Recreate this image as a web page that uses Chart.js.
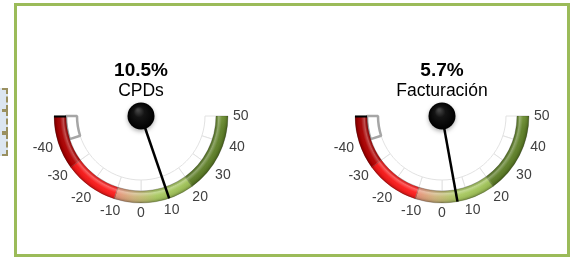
<!DOCTYPE html>
<html>
<head>
<meta charset="utf-8">
<script src="https://cdn.jsdelivr.net/npm/chart.js@4.4.1/dist/chart.umd.min.js"></script>
<style>
  html, body { margin: 0; padding: 0; background: #fff; width: 578px; height: 258px; overflow: hidden; }
  body { position: relative; font-family: "Liberation Sans", Arial, sans-serif; }
  .frame { position: absolute; left: 14px; top: 3px; width: 556px; height: 254px; box-sizing: border-box; border: 3px solid #9bbb59; }
  .sel { position: absolute; left: -20px; width: 28px; height: 23px; box-sizing: border-box; background: #dce6f1; border: 2px dashed #9a9060; }
  canvas { position: absolute; top: 0; }
</style>
</head>
<body>
<div class="sel" style="top:88px"></div>
<div class="sel" style="top:110px"></div>
<div class="sel" style="top:133px"></div>
<div class="frame"></div>
<canvas id="g1" width="290" height="258" style="left:0"></canvas>
<canvas id="g2" width="290" height="258" style="left:301px"></canvas>
<script>
// --- datos de los indicadores ---
const gaugeNames  = ['CPDs', 'Facturación'];
const gaugeValues = [10.5, 5.7];                 // %
const bandStops   = [-50, -30, -10, 20, 50];     // zonas de color
const cellStops   = [-50, -40, -30, -20, -10, 0, 10, 20, 30, 40, 50];
const tickLabels  = [-40, -30, -20, -10, 0, 10, 20, 30, 40, 50];

const dialMin = bandStops[0];
const dialMax = bandStops[bandStops.length - 1];
const FONT = '"Liberation Sans", Arial, sans-serif';

// chart.js dibuja en sentido horario desde las 3h, o sea de 50 hacia -50
const widths = (stops) => stops.slice(1).map((s, i) => s - stops[i]).reverse();

// valor -> ángulo canvas (0 = derecha, PI = izquierda)
const angleOf = (v) => (dialMax - v) / (dialMax - dialMin) * Math.PI;

const COLOR_STOPS = [
    [50, '#6f9134'], [45, '#5f8028'], [20.6, '#5d7d27'],
    [19.6, '#9dc055'], [6, '#a9c961'], [-3, '#cfb27c'], [-9.6, '#e8937a'],
    [-10.4, '#ff1f1f'], [-29.6, '#f21515'],
    [-30.4, '#b40000'], [-50, '#a00000'],
];

function bandGradient(ctx) {
    const area = ctx.chart.chartArea;
    if (!area) return '#c00';
    const cx = (area.left + area.right) / 2, cy = area.top;
    const g = ctx.chart.ctx.createConicGradient(0, cx, cy);
    COLOR_STOPS.forEach(([v, c]) => g.addColorStop((dialMax - v) / (2 * (dialMax - dialMin)), c));
    g.addColorStop(1, '#a00000');
    return g;
}

const gaugePlugin = {
    id: 'gauge',
    afterDatasetDraw(chart, args) {
        if (args.index !== 0) return;
        const arc = args.meta.data[0];
        const { x, y, innerRadius: r0, outerRadius: r1 } = arc;
        const ctx = chart.ctx;
        // relieve del tubo de color
        const sh = ctx.createRadialGradient(x, y, r0, x, y, r1);
        sh.addColorStop(0, 'rgba(0,0,0,0.12)');
        sh.addColorStop(0.22, 'rgba(255,255,255,0.32)');
        sh.addColorStop(0.5, 'rgba(255,255,255,0.04)');
        sh.addColorStop(0.8, 'rgba(0,0,0,0.08)');
        sh.addColorStop(1, 'rgba(0,0,0,0.3)');
        ctx.save();
        ctx.beginPath();
        ctx.arc(x, y, r1, 0, Math.PI);
        ctx.arc(x, y, r0, Math.PI, 0, true);
        ctx.closePath();
        ctx.fillStyle = sh;
        ctx.fill();
        // tapa negra en el extremo -50
        ctx.strokeStyle = '#000';
        ctx.lineWidth = 2;
        ctx.beginPath();
        ctx.moveTo(x - r0, y + 0.5);
        ctx.lineTo(x - r1, y + 0.5);
        ctx.stroke();
        ctx.restore();
    },
    afterDraw(chart, _args, opts) {
        const arc = chart.getDatasetMeta(0).data[0];
        const { x, y, outerRadius } = arc;
        const ctx = chart.ctx;
        ctx.save();

        // etiquetas de la escala, centradas fuera del arco
        ctx.font = '14px ' + FONT;
        ctx.fillStyle = '#404040';
        ctx.textBaseline = 'middle';
        ctx.textAlign = 'center';
        tickLabels.forEach((t) => {
            const a = angleOf(t);
            const c = Math.cos(a), s = Math.sin(a);
            const w = ctx.measureText(String(t)).width;
            const d = 92 + (w / 2) * Math.abs(c) + 5 * Math.abs(s);
            ctx.fillText(String(t), x + d * c, y + d * s);
        });

        // aguja
        const a = angleOf(opts.value);
        ctx.strokeStyle = '#000';
        ctx.lineWidth = 2.5;
        ctx.beginPath();
        ctx.moveTo(x, y);
        ctx.lineTo(x + outerRadius * Math.cos(a), y + outerRadius * Math.sin(a));
        ctx.stroke();

        // pivote
        ctx.save();
        ctx.shadowColor = 'rgba(0,0,0,0.3)';
        ctx.shadowBlur = 4;
        ctx.shadowOffsetY = 2;
        const kg = ctx.createRadialGradient(x - 3, y - 6, 1, x, y, 13.5);
        kg.addColorStop(0, '#444');
        kg.addColorStop(0.35, '#141414');
        kg.addColorStop(1, '#000');
        ctx.fillStyle = kg;
        ctx.beginPath();
        ctx.arc(x, y, 13.5, 0, 2 * Math.PI);
        ctx.fill();
        ctx.restore();

        // textos
        ctx.fillStyle = '#000';
        ctx.textAlign = 'center';
        ctx.textBaseline = 'alphabetic';
        ctx.font = 'bold 19px ' + FONT;
        ctx.fillText(opts.value.toFixed(1) + '%', x, y - 40);
        ctx.font = '17.5px ' + FONT;
        ctx.fillText(opts.name, x, y - 20);
        ctx.restore();
    },
};

function renderGauge(canvas, name, value) {
    const cells = widths(cellStops);
    const last = cells.length - 1;
    return new Chart(canvas, {
        type: 'doughnut',
        data: {
            datasets: [
                {
                    data: widths(bandStops),
                    backgroundColor: bandGradient,
                    borderColor: 'rgba(0,0,0,0.18)',
                    borderWidth: 1,
                    weight: 12,
                },
                {
                    data: cells,
                    backgroundColor: '#ffffff',
                    borderColor: cells.map((_, i) => (i === last ? '#a6a6a6' : '#e2e2e2')),
                    borderWidth: cells.map((_, i) => (i === last ? 2.5 : 1)),
                    weight: 11,
                },
            ],
        },
        options: {
            responsive: false,
            animation: false,
            events: [],
            rotation: 90,
            circumference: 180,
            radius: 87,
            cutout: (64 / 87 * 100) + '%',
            hoverOffset: 0,
            layout: { padding: { left: 54, right: 62, top: 116, bottom: 55 } },
            plugins: {
                legend: { display: false },
                tooltip: { enabled: false },
                gauge: { name, value },
            },
        },
        plugins: [gaugePlugin],
    });
}

renderGauge(document.getElementById('g1'), gaugeNames[0], gaugeValues[0]);
renderGauge(document.getElementById('g2'), gaugeNames[1], gaugeValues[1]);
</script>
</body>
</html>
